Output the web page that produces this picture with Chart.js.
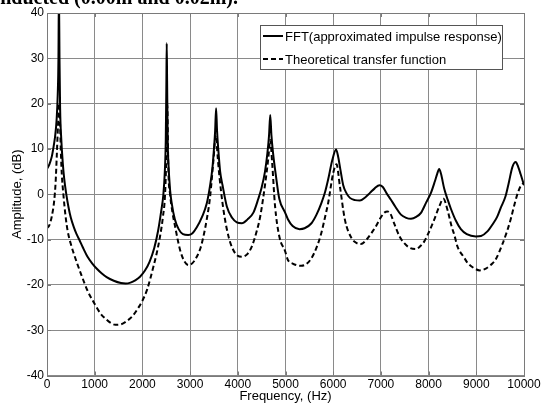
<!DOCTYPE html>
<html>
<head>
<meta charset="utf-8">
<script src="https://cdn.jsdelivr.net/npm/chart.js@4/dist/chart.umd.min.js"></script>
<style>
  html, body { margin: 0; padding: 0; background: #fff; }
  #wrap { width: 541px; height: 405px; position: relative; }
</style>
</head>
<body>
<div id="wrap"><canvas id="c" width="541" height="405"></canvas></div>
<script>
// ---- data ----
const seriesLabels = ['FFT(approximated impulse response)', 'Theoretical transfer function'];

const freqFFT = [0, 50, 100, 150, 170, 200, 225, 240, 250, 262, 275, 300, 330, 360, 400, 450, 500, 560, 620, 680,
  750, 850, 950, 1050, 1150, 1250, 1400, 1550, 1650, 1750, 1850, 1950, 2050, 2150, 2250, 2330, 2390, 2440, 2470, 2490,
  2503, 2510, 2518, 2530, 2545, 2580, 2615, 2680, 2760, 2850, 2960, 3050, 3140, 3250, 3350, 3420, 3470, 3500, 3525, 3545,
  3565, 3590, 3630, 3680, 3770, 3880, 3980, 4085, 4200, 4330, 4430, 4500, 4570, 4620, 4655, 4680, 4705, 4740, 4800, 4870,
  4990, 5050, 5150, 5294, 5400, 5545, 5650, 5750, 5830, 5895, 5980, 6060, 6100, 6150, 6210, 6280, 6350, 6460, 6560, 6670,
  6770, 6870, 6970, 7040, 7120, 7210, 7300, 7420, 7530, 7631, 7740, 7840, 7950, 8049, 8130, 8180, 8222, 8260, 8328, 8400,
  8467, 8570, 8676, 8800, 8990, 9100, 9233, 9350, 9437, 9512, 9611, 9680, 9756, 9826, 9880, 9930, 10000];
const ampFFT = [5.6, 6.6, 8.3, 11.3, 12.8, 16.2, 22, 30, 45, 30, 19, 12, 7, 3.5, 0.3, -2.8, -5.2, -7.2, -8.8, -10.1,
  -11.7, -13.8, -15.3, -16.5, -17.5, -18.3, -19.1, -19.6, -19.7, -19.5, -19, -18.2, -16.9, -14.9, -11.8, -8, -4, 0, 5, 12,
  25, 33.3, 25, 12, 7, 1, -2, -5.5, -7.7, -8.8, -9, -8.6, -7.3, -5, -2, 2, 6, 10, 14, 19,
  14, 10, 5, 2, -2.7, -5.2, -6.2, -6.4, -5.6, -4, -1, 1.5, 5, 9, 13, 17.5, 13, 9, 4, -1,
  -4, -5.5, -7, -7.7, -7.5, -6.4, -4.5, -2, 0.5, 3.3, 7.5, 9.9, 8.5, 5.5, 2, 0.2, -0.8, -1.3, -1.4, -0.7,
  0.3, 1.3, 2, 1.6, 0.2, -1.2, -2.7, -4.5, -5.2, -5.4, -5, -4.1, -1.8, 0.3, 2.8, 4.5, 5.6, 4.5, 1.2, -1.2,
  -3.2, -5.8, -7.7, -8.8, -9.3, -9.2, -8.2, -6.5, -5, -3, -0.5, 2.5, 6, 7.1, 6, 4.4, 2];

const freqTheory = [0, 50, 100, 150, 180, 205, 230, 258, 275, 290, 310, 343, 380, 413, 450, 500, 552, 640, 727, 850,
  1000, 1120, 1250, 1350, 1430, 1550, 1670, 1800, 1900, 2000, 2100, 2230, 2300, 2370, 2430, 2475, 2500, 2520, 2545, 2580,
  2630, 2685, 2790, 2880, 2965, 3050, 3140, 3220, 3280, 3350, 3420, 3490, 3540, 3580, 3615, 3700, 3805, 3900, 3990, 4085,
  4200, 4295, 4400, 4470, 4575, 4640, 4680, 4720, 4780, 4874, 4990, 5050, 5150, 5330, 5450, 5545, 5650, 5750, 5830, 5895,
  6000, 6070, 6140, 6245, 6385, 6480, 6580, 6700, 6800, 6900, 7010, 7080, 7135, 7200, 7280, 7390, 7490, 7600, 7735, 7840,
  7910, 8000, 8118, 8223, 8310, 8400, 8480, 8540, 8604, 8746, 8813, 8950, 9075, 9200, 9303, 9400, 9547, 9650, 9721, 9819,
  9870, 9940, 10000];
const ampTheory = [-7.5, -6.8, -4.9, -1.5, 2.5, 8.5, 15, 20, 15, 9.5, 4.5, 0, -4, -6.8, -9, -11, -12.8, -15.5, -18, -21.3,
  -24.2, -26.3, -27.7, -28.5, -28.8, -28.7, -28, -26.8, -25.3, -23.5, -21, -16, -13, -9.3, -5, 0, 8, 20, 5, 0,
  -4, -7.1, -12.3, -14.8, -15.6, -15.2, -13.8, -11.8, -9.3, -5.5, -0.5, 7.6, 13, 8, 3.9, -3.5, -9.3, -12.2, -13.5, -13.8,
  -13.2, -11.5, -8, -4.9, 2.4, 8, 12, 7, -2.5, -9.5, -12.5, -14.5, -15.3, -15.8, -15.3, -14.1, -11.8, -8.6, -5, -1.9,
  4.7, 6.6, 1.8, -5.6, -9.7, -10.7, -11, -10, -8.6, -7, -4.9, -4, -3.8, -4.3, -6.5, -9.3, -10.8, -11.8, -12.1, -11.3,
  -10.4, -8.5, -5.6, -2.7, -1, -3.6, -7, -9, -11.5, -14, -15.1, -16.3, -16.8, -16.4, -15.6, -14.5, -11, -8, -5.5, -1.5,
  0.3, 2, 2.5];

const xTickValues = [0, 1000, 2000, 3000, 4000, 5000, 6000, 7000, 8000, 9000, 10000];
const yTickValues = [-40, -30, -20, -10, 0, 10, 20, 30, 40];
const xTitle = 'Frequency, (Hz)';
const yTitle = 'Amplitude, (dB)';
const topCaption = 'conducted (0.00m and 0.02m).';

// ---- chart ----
const toPts = (xs, ys) => xs.map((x, i) => ({ x: x, y: ys[i] }));

const framePlugin = {
  id: 'frame',
  beforeDraw(chart) {
    const ctx = chart.ctx;
    ctx.save();
    ctx.fillStyle = '#fff';
    ctx.fillRect(0, 0, chart.width, chart.height);
    // cropped caption line at the very top
    ctx.fillStyle = '#000';
    ctx.font = 'bold 20px "Liberation Serif"';
    ctx.textAlign = 'right';
    ctx.textBaseline = 'alphabetic';
    ctx.fillText(topCaption, 238, 4);
    ctx.restore();
  },
  afterDatasetsDraw(chart) {
    const ctx = chart.ctx, a = chart.chartArea;
    const xs = chart.scales.x, ys = chart.scales.y;
    ctx.save();
    ctx.strokeStyle = '#7a7a7a';
    ctx.lineWidth = 1;
    ctx.beginPath();
    xTickValues.forEach(v => {
      const px = Math.round(xs.getPixelForValue(v)) + 0.5;
      ctx.moveTo(px, a.bottom); ctx.lineTo(px, a.bottom - 4);
      ctx.moveTo(px, a.top); ctx.lineTo(px, a.top + 4);
    });
    yTickValues.forEach(v => {
      const py = Math.round(ys.getPixelForValue(v)) + 0.5;
      ctx.moveTo(a.left, py); ctx.lineTo(a.left + 4, py);
      ctx.moveTo(a.right, py); ctx.lineTo(a.right - 4, py);
    });
    ctx.stroke();
    ctx.strokeRect(Math.round(a.left) + 0.5, Math.round(a.top) + 0.5,
      Math.round(a.right - a.left), Math.round(a.bottom - a.top));
    ctx.restore();
  },
  afterDraw(chart) {
    const ctx = chart.ctx;
    const bx = 260.5, by = 25.5, bw = 242, bh = 44;
    ctx.save();
    ctx.fillStyle = '#fff';
    ctx.fillRect(bx, by, bw, bh);
    ctx.strokeStyle = '#555';
    ctx.lineWidth = 1;
    ctx.strokeRect(bx, by, bw, bh);
    ctx.font = '13px "Liberation Sans"';
    ctx.textAlign = 'left';
    ctx.textBaseline = 'middle';
    const rows = [36, 59];
    chart.data.datasets.forEach((ds, i) => {
      const y = rows[i];
      ctx.strokeStyle = ds.borderColor;
      ctx.lineWidth = ds.borderWidth;
      ctx.setLineDash(ds.borderDash || []);
      ctx.beginPath();
      ctx.moveTo(263, y); ctx.lineTo(283, y);
      ctx.stroke();
      ctx.setLineDash([]);
      ctx.fillStyle = '#000';
      ctx.fillText(ds.label, 285, y + 1);
    });
    ctx.restore();
  }
};

new Chart(document.getElementById('c'), {
  type: 'line',
  data: {
    datasets: [
      { label: seriesLabels[0], data: toPts(freqFFT, ampFFT), borderColor: '#000', borderWidth: 2,
        pointRadius: 0, fill: false, cubicInterpolationMode: 'monotone' },
      { label: seriesLabels[1], data: toPts(freqTheory, ampTheory), borderColor: '#000', borderWidth: 2,
        borderDash: [5, 3], pointRadius: 0, fill: false, cubicInterpolationMode: 'monotone' }
    ]
  },
  options: {
    responsive: false,
    animation: false,
    devicePixelRatio: 1,
    layout: { padding: { top: 13, right: 17, left: 0, bottom: 0 } },
    plugins: { legend: { display: false }, tooltip: { enabled: false } },
    scales: {
      x: {
        type: 'linear', min: 0, max: 10000,
        afterFit(s) { s.height = 29.5; s.paddingLeft = 0; s.paddingRight = 0; },
        afterBuildTicks(s) { s.ticks = xTickValues.map(v => ({ value: v })); },
        ticks: { autoSkip: false, maxRotation: 0, padding: 2, color: '#000',
          font: { family: '"Liberation Sans"', size: 12 }, callback: v => String(v) },
        grid: { color: '#8a8a8a', borderDash: [1, 2], drawTicks: false, lineWidth: 1 },
        border: { display: false },
        title: { display: true, text: xTitle, color: '#000', padding: { top: 0, bottom: 1 },
          font: { family: '"Liberation Sans"', size: 13 } }
      },
      y: {
        type: 'linear', min: -40, max: 40,
        afterFit(s) { s.width = 47; s.paddingTop = 0; s.paddingBottom = 0; },
        afterBuildTicks(s) { s.ticks = yTickValues.map(v => ({ value: v })); },
        ticks: { autoSkip: false, padding: 3, color: '#000',
          font: { family: '"Liberation Sans"', size: 12 }, callback: v => String(v) },
        grid: { color: '#8a8a8a', borderDash: [1, 2], drawTicks: false, lineWidth: 1 },
        border: { display: false },
        title: { display: true, text: yTitle, color: '#000', padding: { top: 10, bottom: 0 },
          font: { family: '"Liberation Sans"', size: 13 } }
      }
    }
  },
  plugins: [framePlugin]
});
</script>
</body>
</html>
